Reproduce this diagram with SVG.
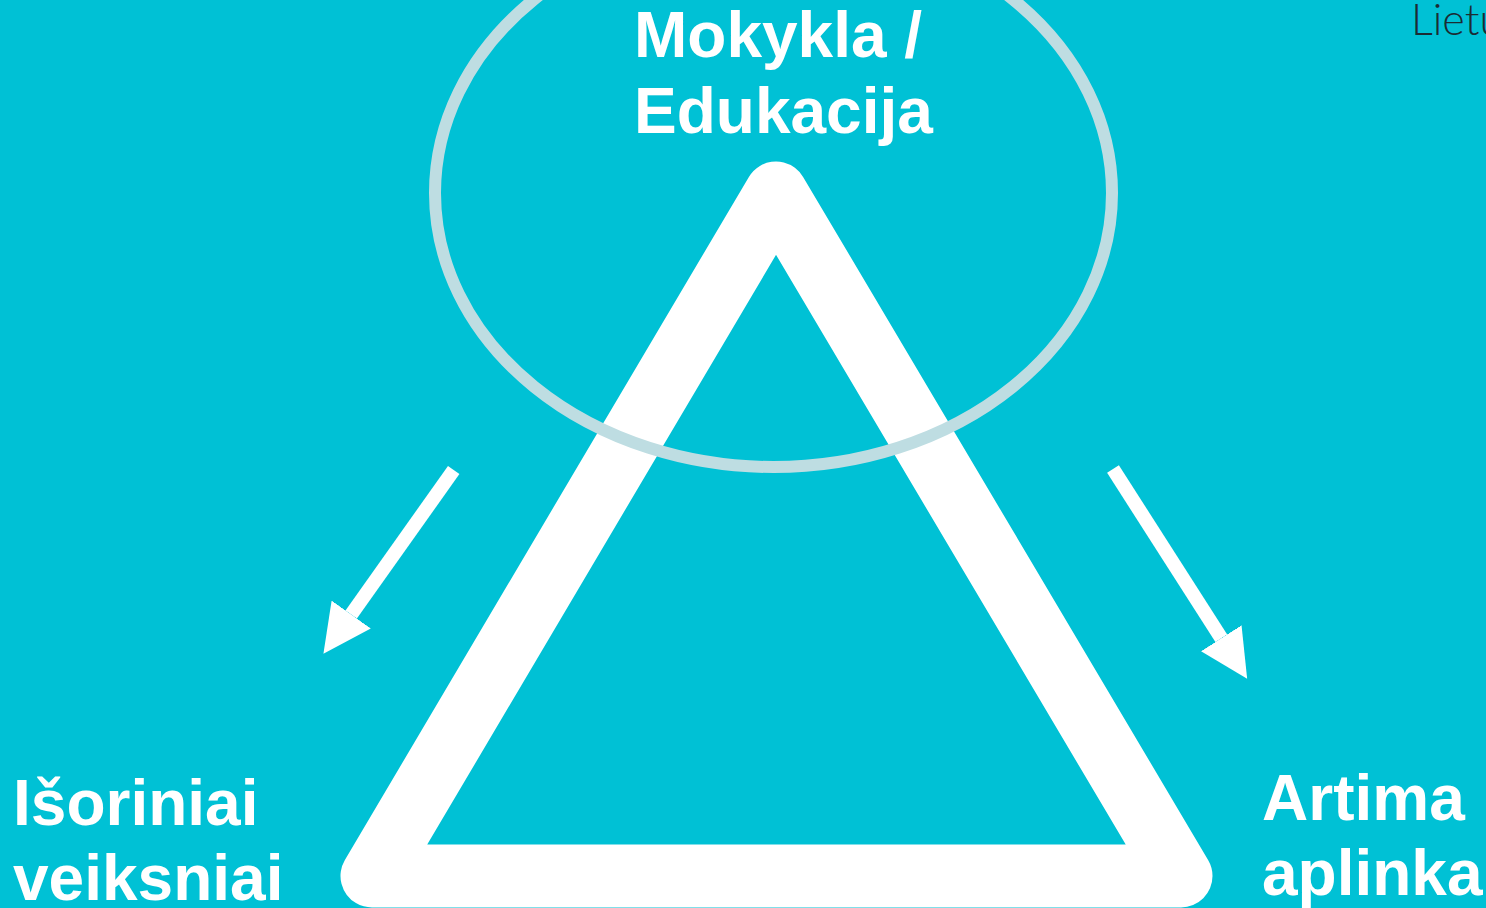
<svg xmlns="http://www.w3.org/2000/svg" width="1486" height="908" viewBox="0 0 1486 908">
<style>
.lbl{font-family:"Liberation Sans",Arial,sans-serif;font-weight:bold;font-size:64px;fill:#ffffff}
.arr{stroke:#ffffff;stroke-width:14;fill:none}
</style>
<defs>
<marker id="head" markerUnits="userSpaceOnUse" markerWidth="48" markerHeight="48" refX="0" refY="24" orient="auto" viewBox="0 0 48 48">
<path d="M0,0 L48,24 L0,48 Z" fill="#ffffff"/>
</marker>
</defs>
<rect x="0" y="0" width="1486" height="908" fill="#00C1D5"/>
<text x="1411" y="35" font-family="Lato,'Open Sans',sans-serif" font-weight="300" font-size="43" fill="#1c2b33">Lietu</text>
<g id="triangle">
<polygon points="776,193 372,876 1181,876" fill="none" stroke="#ffffff" stroke-width="63" stroke-linejoin="round"/>
</g>
<g id="school">
<ellipse cx="773.5" cy="193" rx="338.5" ry="274" fill="none" stroke="#BEDDE2" stroke-width="12"/>
<text class="lbl" x="634" y="57">Mokykla /</text>
<text class="lbl" x="634" y="133">Edukacija</text>
</g>
<g id="external">
<text class="lbl" x="13" y="825">Išoriniai</text>
<text class="lbl" x="13" y="900">veiksniai</text>
</g>
<g id="close">
<text class="lbl" x="1262" y="820">Artima</text>
<text class="lbl" x="1262" y="895">aplinka</text>
</g>
<g id="connectors">
<line class="arr" x1="453.7" y1="470" x2="351.2" y2="614.5" marker-end="url(#head)"/>
<line class="arr" x1="1113" y1="469" x2="1221.3" y2="638.3" marker-end="url(#head)"/>
</g>
</svg>
